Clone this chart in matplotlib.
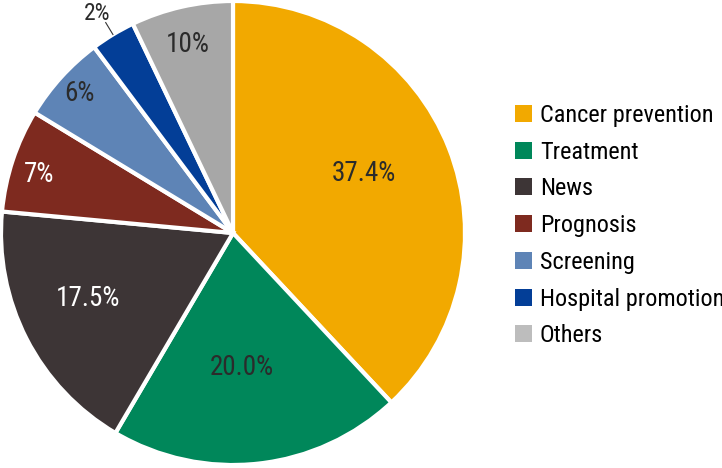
import matplotlib
matplotlib.use("Agg")
import matplotlib.pyplot as plt
import numpy as np
from matplotlib.patches import Patch
from matplotlib import font_manager as fm

categories = ["Cancer prevention", "Treatment", "News", "Prognosis",
              "Screening", "Hospital promotion", "Others"]
sizes = [38.0, 20.4, 18.0, 7.2, 6.1, 3.1, 7.1]
labels = ["37.4%", "20.0%", "17.5%", "7%", "6%", "2%", "10%"]
colors = ["#F2A900", "#00875A", "#3D3536", "#7E2A1F", "#5E84B6", "#033E97", "#A7A7A7"]
legend_colors = ["#F2A900", "#00875A", "#3D3536", "#7E2A1F", "#5E84B6", "#033E97", "#BDBDBD"]
label_colors = ["#2B2B2B", "#2B2B2B", "white", "white", "#2B2B2B", "#2B2B2B", "#2B2B2B"]
label_radius = [0.619, 0.583, 0.685, 0.872, 0.892, 1.115, 0.837]
label_dangle = [3.1, -2.5, -2.9, 1.4, 0.0, 0.6, 0.6]

# pick a condensed sans font if one is installed
cond_path = None
cands = []
for f in fm.fontManager.ttflist:
    nm = f.name.lower()
    st = str(f.stretch).lower()
    if f.style != "normal" or f.weight not in (400, "normal", "regular"):
        continue
    if "narrow" in nm or "condensed" in nm or st in ("condensed", "semi-condensed", "600", "500", "700"):
        if "mono" in nm or "serif" in nm and "sans" not in nm:
            continue
        cands.append(f)
pref = ["liberation sans narrow", "roboto condensed", "noto sans", "open sans", "dejavu sans"]
for p in pref:
    for f in cands:
        if f.name.lower().startswith(p):
            cond_path = f.fname
            break
    if cond_path:
        break
if cond_path is None and cands:
    cond_path = cands[0].fname

FS_LEG = 17.5
FS_LAB = 19.5
if cond_path:
    fp = fm.FontProperties(fname=cond_path, size=FS_LEG)
    fp_lab = fm.FontProperties(fname=cond_path, size=FS_LAB)
    fp_small = fm.FontProperties(fname=cond_path, size=17.0)
else:
    plt.rcParams['font.family'] = ['Roboto', 'DejaVu Sans']
    fp = fm.FontProperties(family=['Roboto', 'DejaVu Sans'], size=FS_LEG - 2.5)
    fp_lab = fm.FontProperties(family=['Roboto', 'DejaVu Sans'], size=FS_LAB - 2.5)
    fp_small = fm.FontProperties(family=['Roboto', 'DejaVu Sans'], size=14.5)

W, H = 722, 468
fig = plt.figure(figsize=(W / 100, H / 100), dpi=100)
cx, cy, r = 233, H - 233, 232
ax = fig.add_axes([(cx - r) / W, (cy - r) / H, 2 * r / W, 2 * r / H])
wedges, _ = ax.pie(sizes, colors=colors, startangle=90, counterclock=False,
                   radius=1.0, wedgeprops=dict(edgecolor="white", linewidth=3))
ax.set_xlim(-1, 1)
ax.set_ylim(-1, 1)
ax.set_aspect("equal")
ax.axis("off")

for w, lab, col, rd, da in zip(wedges, labels, label_colors, label_radius, label_dangle):
    mid_deg = (w.theta1 + w.theta2) / 2
    ang = np.deg2rad(mid_deg + da)
    x, y = rd * np.cos(ang), rd * np.sin(ang)
    outside = rd > 1
    ax.text(x, y, lab, ha="center", va="center",
            fontproperties=fp_small if outside else fp_lab,
            color=col, clip_on=False)
    if outside:
        m = np.deg2rad(mid_deg)
        ax.plot([1.0 * np.cos(m), 1.06 * np.cos(m)],
                [1.0 * np.sin(m), 1.06 * np.sin(m)], color="#333333",
                lw=0.8, clip_on=False)

handles = [Patch(facecolor=c, edgecolor="none") for c in legend_colors]
fig.legend(handles, categories, loc="upper left",
           bbox_to_anchor=(493 / W, 1 - 82 / H), frameon=False,
           prop=fp, handlelength=0.7, handleheight=0.7,
           handletextpad=0.33, labelspacing=0.565)

fig.savefig("out.png", dpi=100)
